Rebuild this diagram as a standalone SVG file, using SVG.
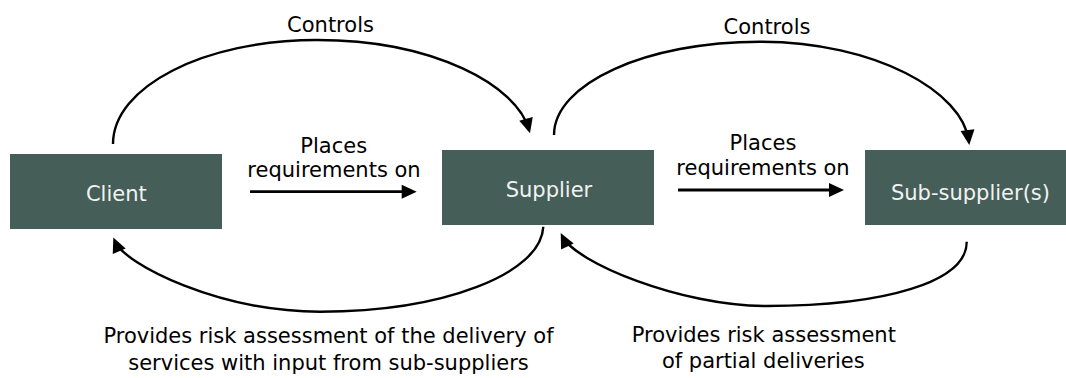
<svg xmlns="http://www.w3.org/2000/svg" width="1066" height="378" viewBox="0 0 1066 378">
  <style>
    .box { fill: #455e58; }
    .box-label { font-family: "DejaVu Sans", Verdana, sans-serif; font-size: 21px; fill: #f2f2f2; text-anchor: middle; }
    .label { font-family: "DejaVu Sans", Verdana, sans-serif; font-size: 21px; fill: #000; text-anchor: middle; }
    .curve { fill: none; stroke: #000; stroke-width: 2.4; marker-end: url(#arrow); }
    .straight { fill: none; stroke: #000; stroke-width: 2.8; marker-end: url(#arrow); }
  </style>
  <defs>
    <!-- solid triangular arrowhead; tip sits 4px past the path end -->
    <marker id="arrow" markerUnits="userSpaceOnUse" viewBox="-16 -8 16 16" markerWidth="16" markerHeight="16" refX="-4" refY="0" orient="auto">
      <path d="M0,0 L-15,-7 L-15,7 Z" fill="#000"/>
    </marker>
  </defs>

  <rect width="1066" height="378" fill="#fff"/>

  <!-- nodes -->
  <g id="client">
    <rect class="box" x="10" y="154" width="212" height="75"/>
    <text class="box-label" x="116.3" y="201">Client</text>
  </g>
  <g id="supplier">
    <rect class="box" x="442" y="150" width="212" height="75"/>
    <text class="box-label" x="549" y="197">Supplier</text>
  </g>
  <g id="sub-supplier">
    <rect class="box" x="865" y="150" width="201" height="75"/>
    <text class="box-label" x="970.5" y="200">Sub-supplier(s)</text>
  </g>

  <!-- connectors -->
  <g id="connectors">
    <!-- Client controls Supplier -->
    <path class="curve" d="M113,144 C113,86.6 204.3,40 317,40 C434.6,40 517,86 528.9,129.4"/>
    <!-- Supplier controls Sub-supplier -->
    <path class="curve" d="M554,135 C554,83.5 646.2,41.7 760,41.7 C875.6,41.7 963,92 968.8,141"/>
    <!-- Supplier reports back to Client -->
    <path class="curve" d="M543.3,226.7 C541,274 443,311.7 320,311.7 C220,311.7 125,265 114.9,241.2"/>
    <!-- Sub-supplier reports back to Supplier -->
    <path class="curve" d="M966.7,241.7 C967,282 885,306 766.7,306 C680,306 575,262 562.5,236.6"/>
    <!-- requirements -->
    <path class="straight" d="M250,191.7 H412.7"/>
    <path class="straight" d="M678,190 H840"/>
  </g>

  <!-- connector labels -->
  <g id="labels">
    <text class="label" x="330.5" y="32.3">Controls</text>
    <text class="label" x="767" y="34.3">Controls</text>
    <text class="label" x="333.7" y="152.7">Places</text>
    <text class="label" x="334" y="176.7">requirements on</text>
    <text class="label" x="763" y="150">Places</text>
    <text class="label" x="763" y="175">requirements on</text>
    <text class="label" x="328.5" y="342.7">Provides risk assessment of the delivery of</text>
    <text class="label" x="328.5" y="370">services with input from sub-suppliers</text>
    <text class="label" x="763.8" y="341.7">Provides risk assessment</text>
    <text class="label" x="763.3" y="368">of partial deliveries</text>
  </g>
</svg>
